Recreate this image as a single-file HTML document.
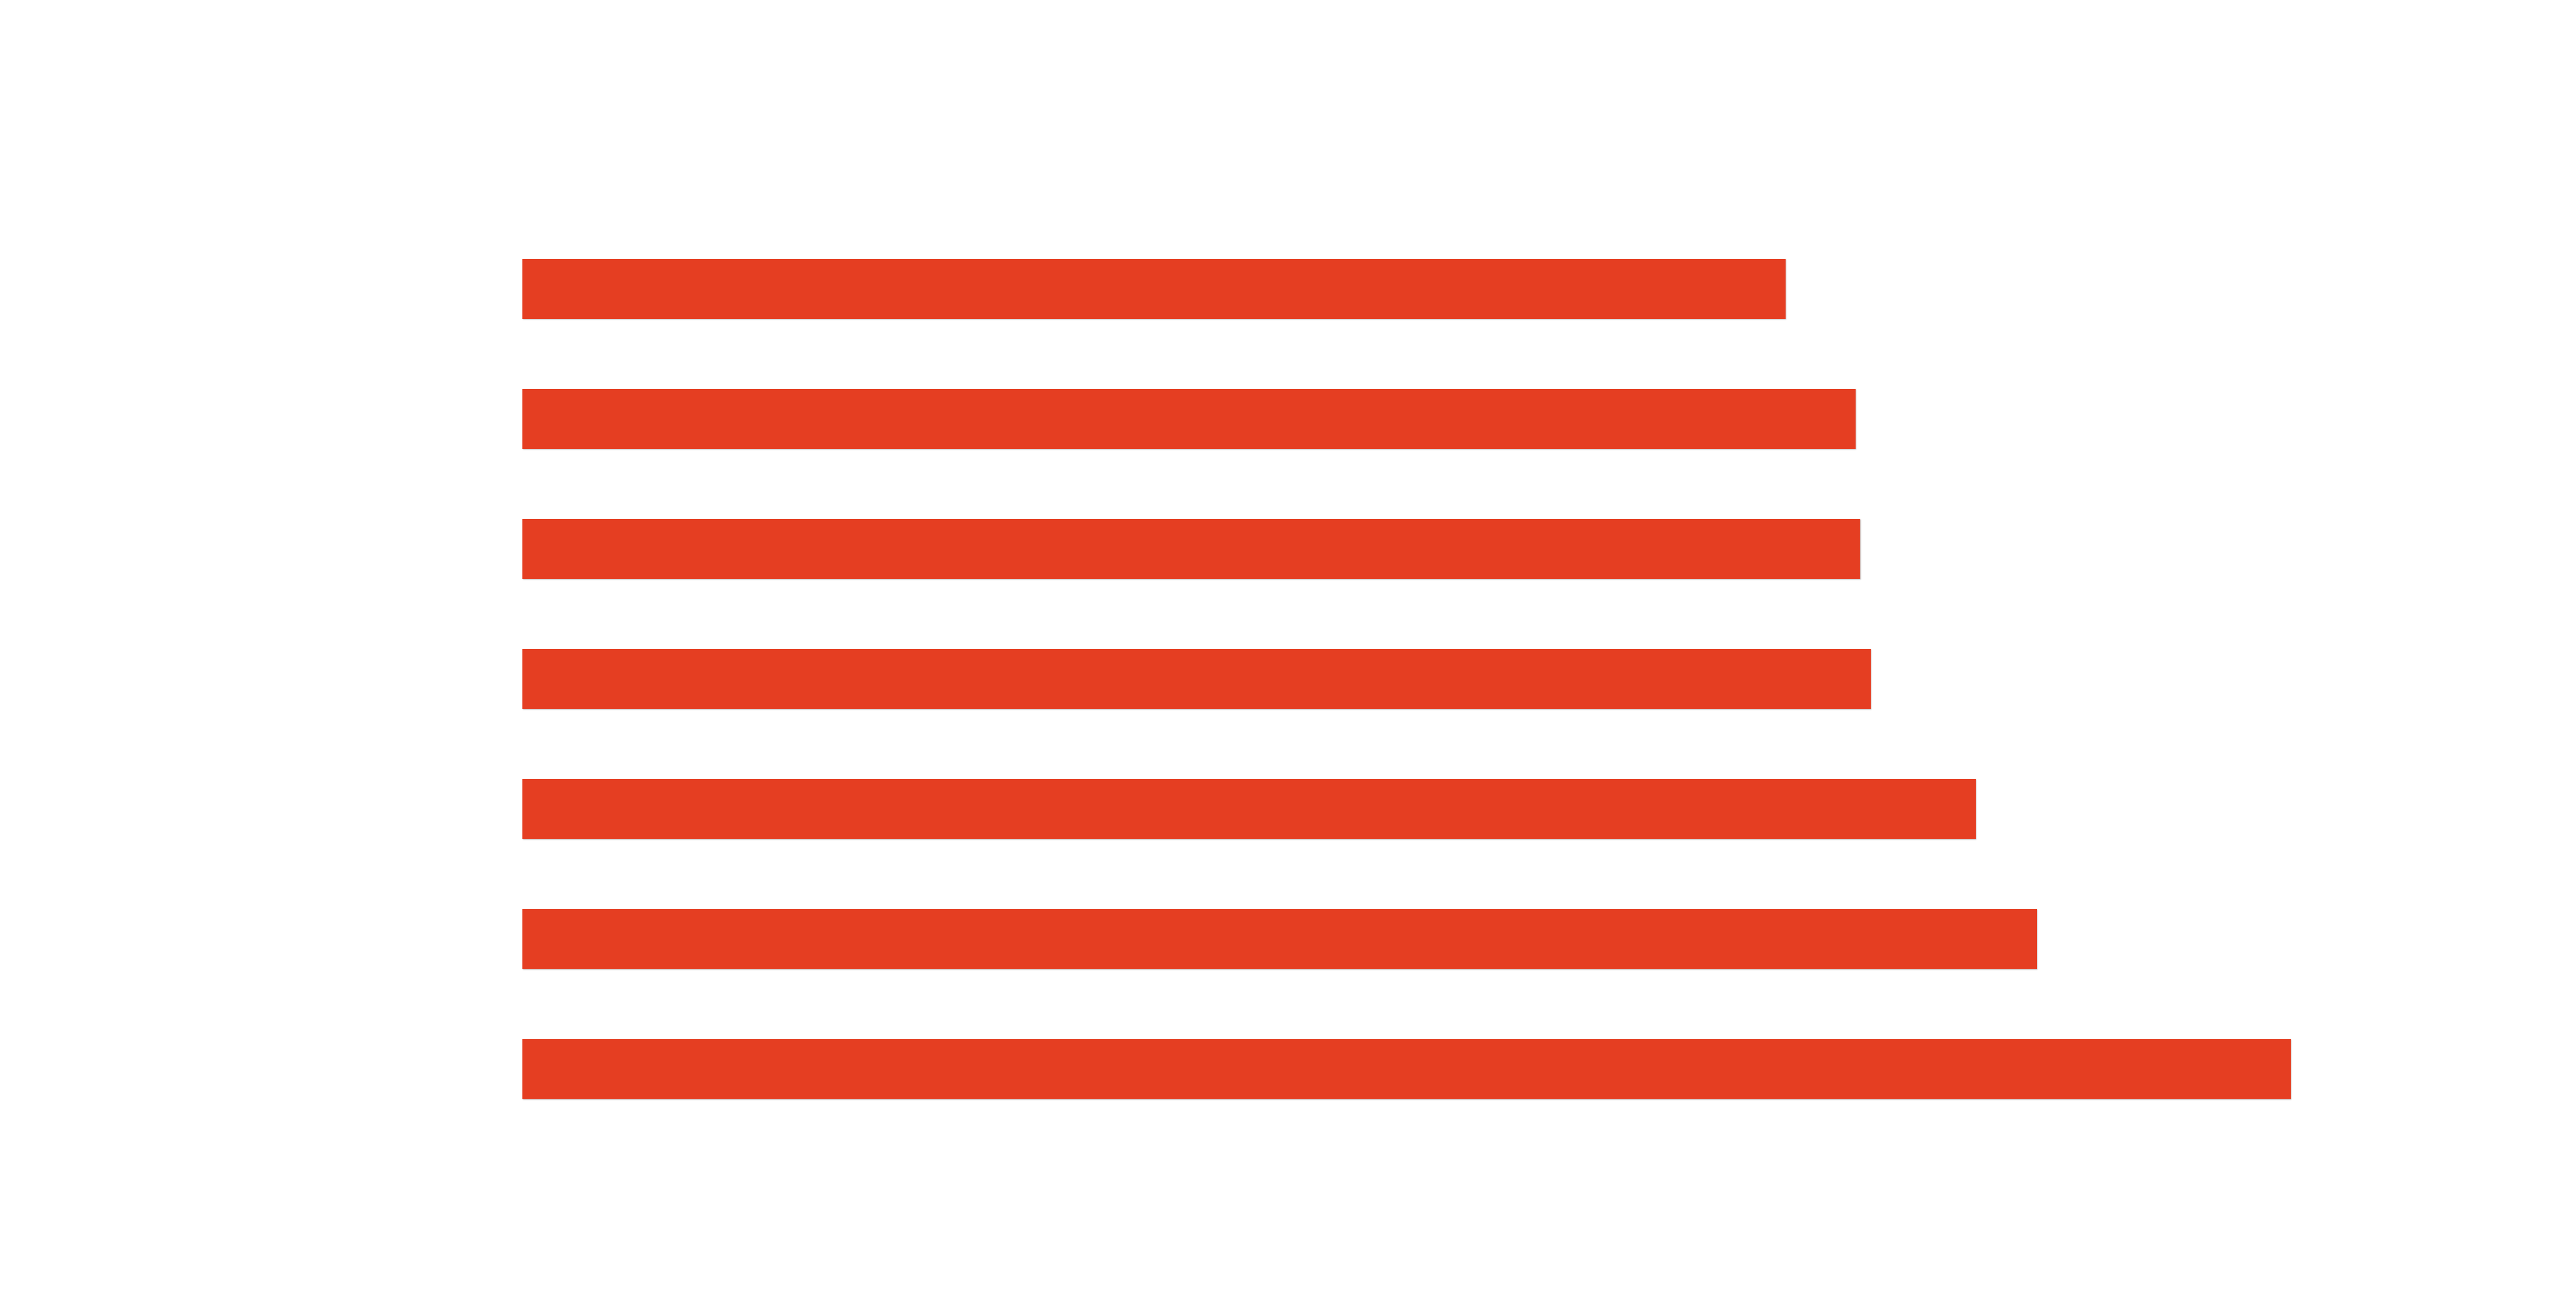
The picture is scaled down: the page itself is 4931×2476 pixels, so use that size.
<!DOCTYPE html>
<html><head><style>
html,body{margin:0;padding:0;background:#fff;}
.c{position:relative;width:4931px;height:2476px;background:#fff;overflow:hidden;}
.b{position:absolute;left:1000px;height:115px;background:#E53E22;box-shadow:1px 1px 2px rgba(0,0,0,0.25);}
</style></head><body><div class="c">
<div class="b" style="top:496px;width:2418px"></div>
<div class="b" style="top:745px;width:2552px"></div>
<div class="b" style="top:994px;width:2561px"></div>
<div class="b" style="top:1243px;width:2581px"></div>
<div class="b" style="top:1492px;width:2782px"></div>
<div class="b" style="top:1741px;width:2899px"></div>
<div class="b" style="top:1990px;width:3385px"></div>
</div></body></html>
